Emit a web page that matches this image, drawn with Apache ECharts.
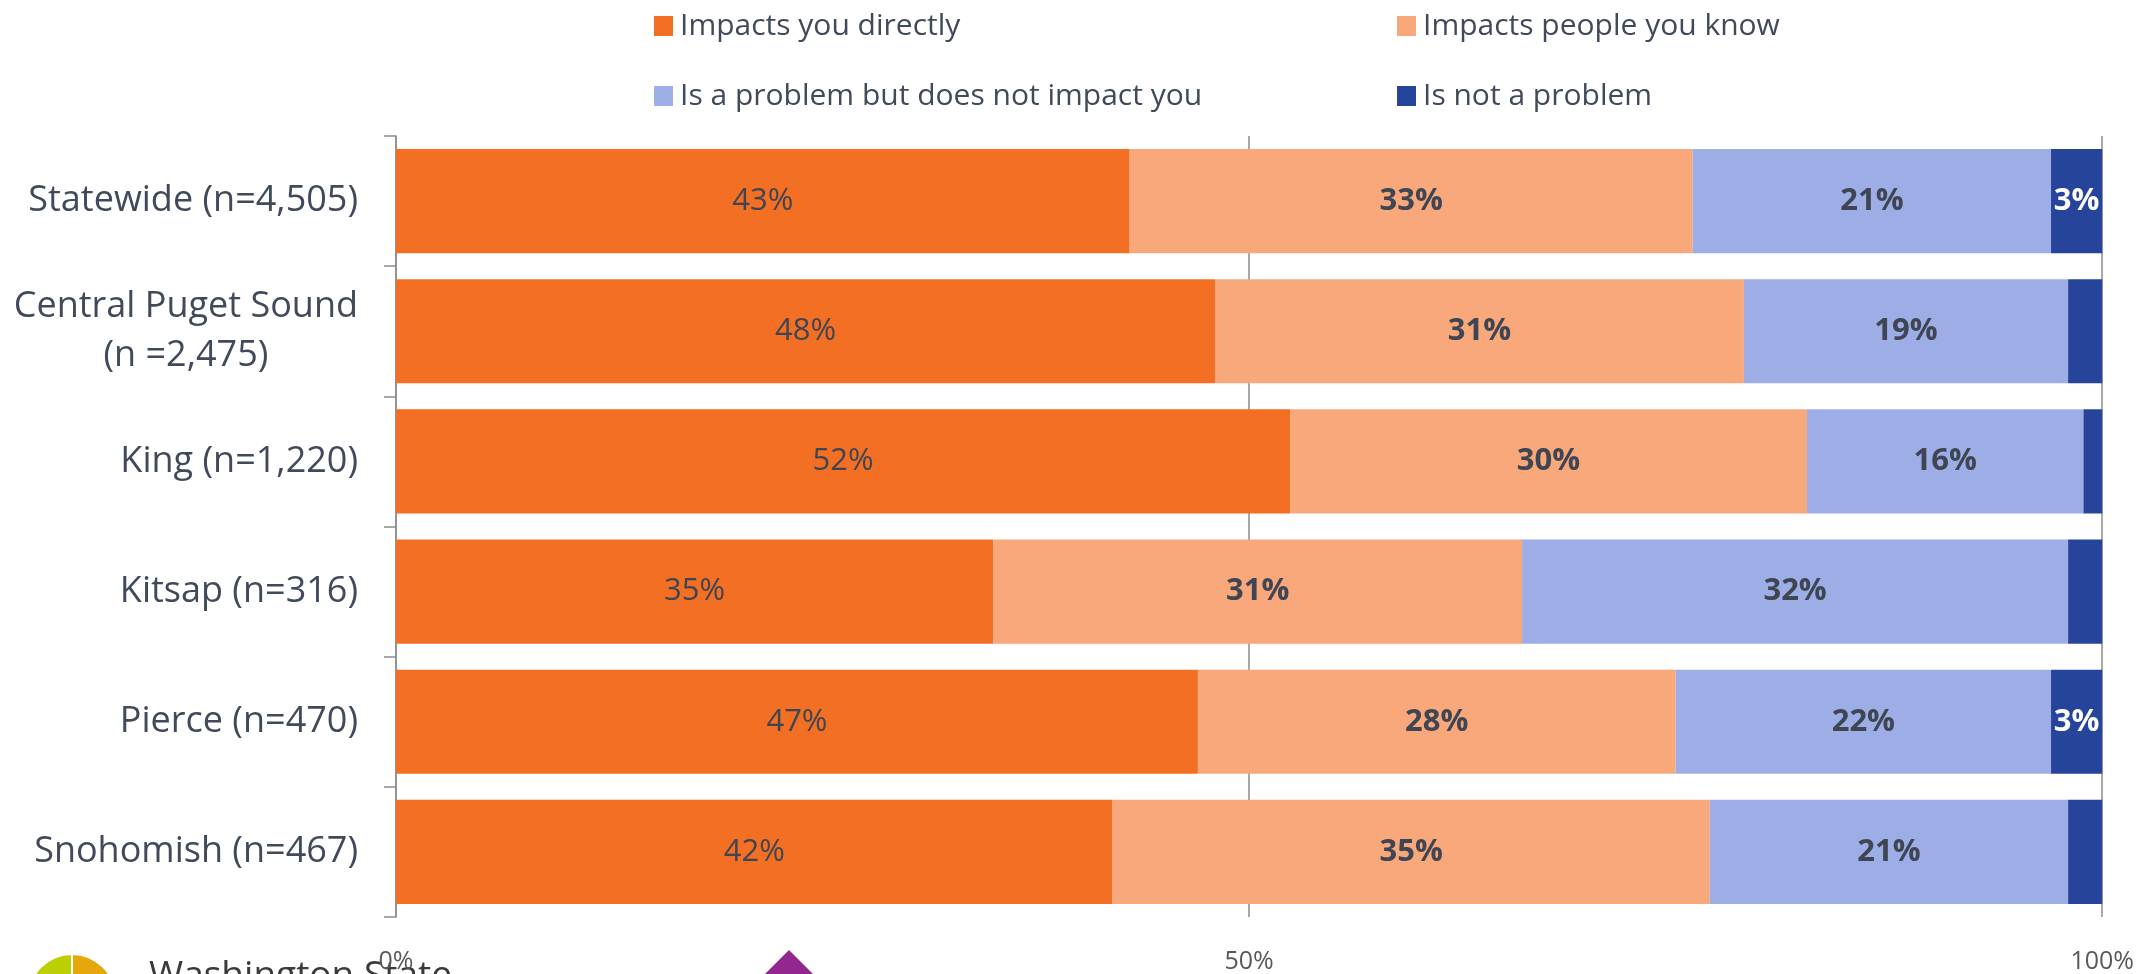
<!DOCTYPE html>
<html>
<head>
<meta charset="utf-8">
<script src="https://cdn.jsdelivr.net/npm/echarts@6/dist/echarts.min.js"></script>
<style>
html,body{margin:0;padding:0;background:#fff;}
#chart{width:2137px;height:974px;}
</style>
</head>
<body>
<div id="chart"></div>
<script>
const categories = ['Statewide (n=4,505)', 'Central Puget Sound\n(n =2,475)', 'King (n=1,220)', 'Kitsap (n=316)', 'Pierce (n=470)', 'Snohomish (n=467)'];
const seriesNames = ['Impacts you directly', 'Impacts people you know', 'Is a problem but does not impact you', 'Is not a problem'];
const impactsDirectly = [43, 48, 52.4, 35, 47, 42];
const impactsKnown = [33, 31, 30.3, 31, 28, 35];
const problemNoImpact = [21, 19, 16.2, 32, 22, 21];
const notProblem = [3, 2, 1.1, 2, 3, 2];
const xTicks = [0, 50, 100];

const colors = ['#F26F23', '#F8A87B', '#9CAEE5', '#27449B'];
const font = '"Open Sans", "DejaVu Sans", sans-serif';
const textColor = '#404A5A';

function mkSeries(name, data, color, labelColor, weight, minShow) {
  return {
    name: name, type: 'bar', stack: 'total', data: data,
    barCategoryGap: '20%',
    itemStyle: { color: color },
    label: {
      show: true, position: 'inside', fontFamily: font, fontSize: 31,
      fontWeight: weight, color: labelColor,
      formatter: p => (p.value >= minShow ? Math.round(p.value) + '%' : '')
    },
    emphasis: { disabled: true }
  };
}

const legendText = { fontFamily: font, fontSize: 30, color: textColor, padding: [0, 0, 0, 2] };

const chart = echarts.init(document.getElementById('chart'));
chart.setOption({
  animation: false,
  color: colors,
  legend: [
    {
      data: [seriesNames[0], seriesNames[2]], orient: 'vertical', left: 654, top: 11,
      itemWidth: 19, itemHeight: 20, itemGap: 40, icon: 'rect', padding: 0,
      textStyle: legendText
    },
    {
      data: [seriesNames[1], seriesNames[3]], orient: 'vertical', left: 1397, top: 11,
      itemWidth: 19, itemHeight: 20, itemGap: 40, icon: 'rect', padding: 0,
      textStyle: legendText
    }
  ],
  grid: { left: 396, right: 34, top: 136, bottom: 52, containLabel: false },
  xAxis: {
    type: 'value', min: xTicks[0], max: xTicks[xTicks.length - 1], interval: 50,
    axisLine: { show: false }, axisTick: { show: false },
    splitLine: { show: true, lineStyle: { color: '#8C8C8C', width: 1.5 } },
    axisLabel: { formatter: '{value}%', fontFamily: font, fontSize: 25, color: '#595959', margin: 32 }
  },
  yAxis: {
    type: 'category', data: categories, inverse: true,
    axisLine: { show: true, lineStyle: { color: '#8C8C8C', width: 1.5 } },
    axisTick: { show: true, length: 12, lineStyle: { color: '#8C8C8C', width: 1.5 } },
    axisLabel: {
      margin: 38, fontFamily: font, fontSize: 36, color: textColor, lineHeight: 49,
      formatter: v => '{c|' + v + '}',
      rich: { c: { align: 'center', fontFamily: font, fontSize: 36, color: textColor, lineHeight: 49 } }
    }
  },
  series: [
    mkSeries(seriesNames[0], impactsDirectly, colors[0], '#3F4553', 'normal', 0),
    mkSeries(seriesNames[1], impactsKnown, colors[1], '#3F4553', 'bold', 0),
    mkSeries(seriesNames[2], problemNoImpact, colors[2], '#3F4553', 'bold', 0),
    mkSeries(seriesNames[3], notProblem, colors[3], '#FFFFFF', 'bold', 2.5)
  ],
  graphic: [
    { type: 'sector', shape: { cx: 72, cy: 998, r0: 0, r: 43, startAngle: Math.PI / 2, endAngle: Math.PI * 3 / 2 }, style: { fill: '#BCCF02' } },
    { type: 'sector', shape: { cx: 72, cy: 998, r0: 0, r: 43, startAngle: -Math.PI / 2, endAngle: Math.PI / 2 }, style: { fill: '#E6A70A' } },
    { type: 'rect', shape: { x: 71, y: 950, width: 2, height: 30 }, style: { fill: '#fff' } },
    { type: 'text', left: 149, top: 958, style: { text: 'Washington State', fontFamily: font, fontSize: 37, fill: '#3a3a3a' } },
    { type: 'polygon', shape: { points: [[789, 950], [818, 979], [789, 1008], [760, 979]] }, style: { fill: '#93278F' } },
    { type: 'polygon', shape: { points: [[757, 982], [786, 1011], [757, 1040], [728, 1011]] }, style: { fill: '#F26B3A' } },
    { type: 'polygon', shape: { points: [[821, 982], [850, 1011], [821, 1040], [792, 1011]] }, style: { fill: '#8DC63F' } }
  ]
});
</script>
</body>
</html>
